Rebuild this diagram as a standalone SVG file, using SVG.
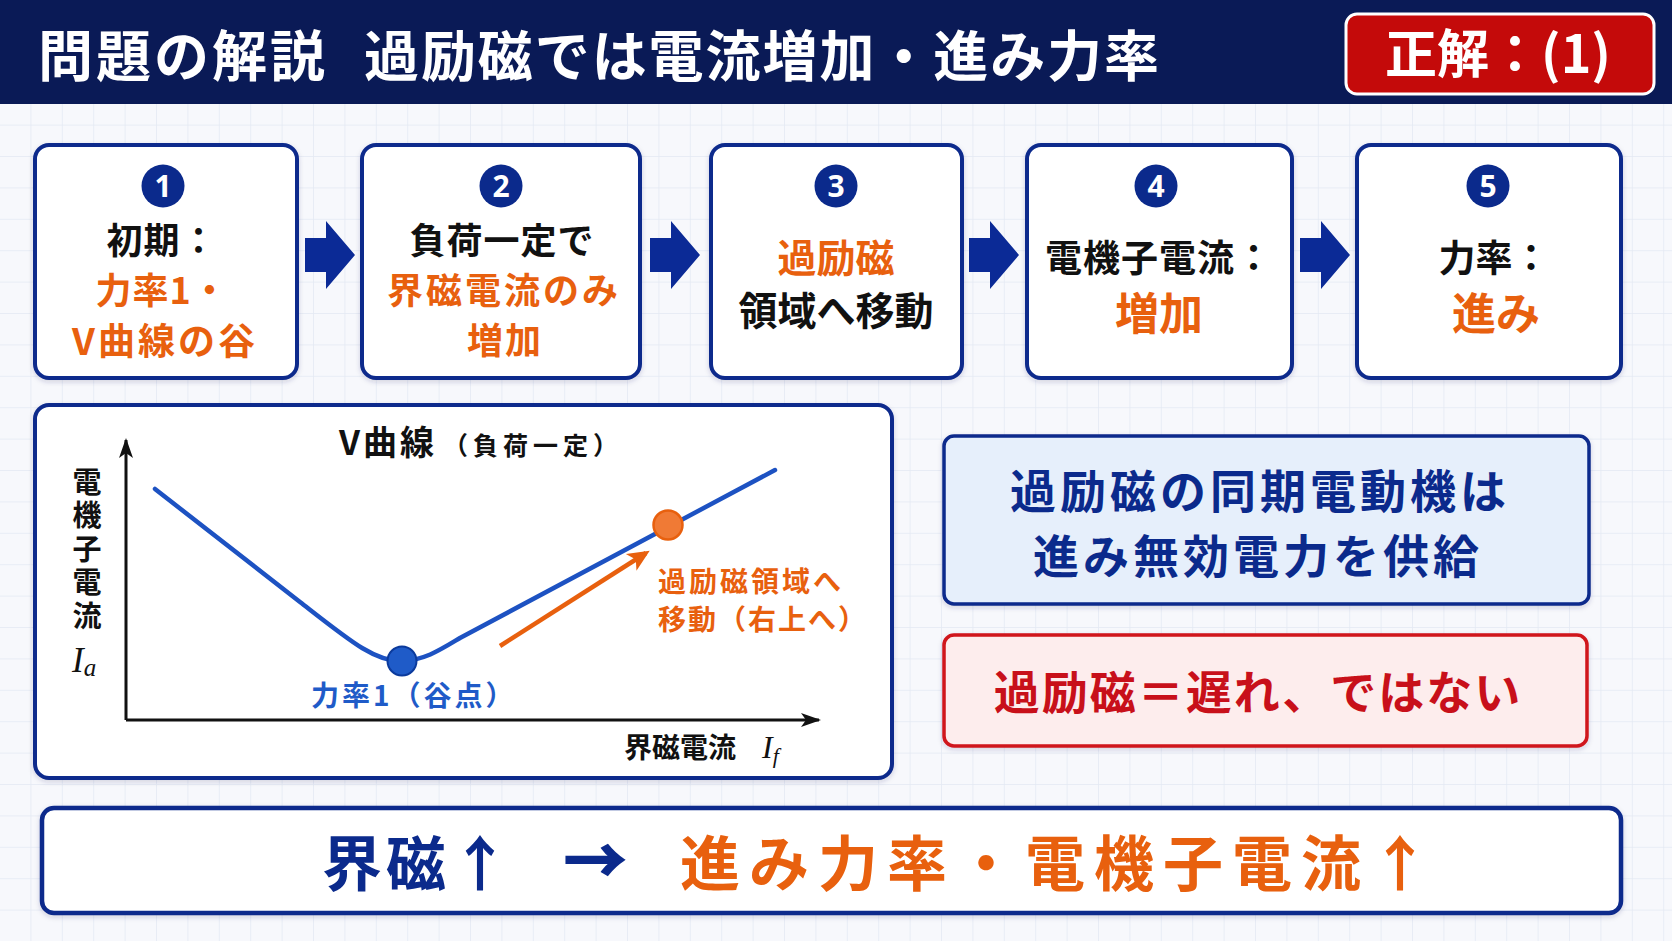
<svg xmlns="http://www.w3.org/2000/svg" width="1672" height="941" viewBox="0 0 1672 941">
<defs>
<style>
.jp{font-family:"Noto Sans CJK JP","Noto Sans",sans-serif;font-weight:700}
.box{fill:#ffffff;stroke:#0b2a8c;stroke-width:4}
.num{fill:#0b2a8c}
.numt{fill:#ffffff;font-family:"Noto Sans","Liberation Sans",sans-serif;font-weight:700;font-size:30px;text-anchor:middle}
.blk{fill:#0b2a96}
.s{font-size:36px;text-anchor:middle}
.k{fill:#111111}
.o{fill:#e8600e}
.nv{fill:#0b2a8c}
.ser{font-family:"Liberation Serif",serif;font-style:italic;font-weight:400}
</style>
<pattern id="grid" width="31.4" height="31.4" patternUnits="userSpaceOnUse">
<path d="M31.4 0V31.4M0 31.4H31.4" fill="none" stroke="#e4e9f3" stroke-width="1.5"/>
</pattern>
<filter id="sh" x="-5%" y="-5%" width="110%" height="115%">
<feDropShadow dx="0" dy="2" stdDeviation="2.5" flood-color="#1a2a60" flood-opacity="0.18"/>
</filter>
<marker id="ax" viewBox="0 0 20 14" refX="18" refY="7" markerWidth="20" markerHeight="14" markerUnits="userSpaceOnUse" orient="auto">
<path d="M0,0 L20,7 L0,14 L5,7 Z" fill="#111111"/>
</marker>
<marker id="oa" viewBox="0 0 20 20" refX="16" refY="10" markerWidth="22" markerHeight="22" markerUnits="userSpaceOnUse" orient="auto">
<path d="M0,1 L20,10 L0,19 L5,10 Z" fill="#e8600e"/>
</marker>
<path id="blkarrow" d="M0,-17 L21,-17 L21,-34 L50,0 L21,34 L21,17 L0,17 Z"/>
</defs>

<rect width="1672" height="941" fill="#f7f8fc"/>
<rect width="1672" height="941" fill="url(#grid)"/>

<g id="header">
<rect x="0" y="0" width="1672" height="104" fill="#0a1a56"/>
<text class="jp" x="38" y="76" font-size="55" fill="#ffffff" textLength="287" lengthAdjust="spacing">問題の解説</text>
<text class="jp" x="364" y="76" font-size="55" fill="#ffffff" textLength="795" lengthAdjust="spacing">過励磁では電流増加・進み力率</text>
</g>

<g id="answer">
<rect x="1346" y="14" width="308" height="80" rx="11" fill="#c40a0a" stroke="#ffffff" stroke-width="3"/>
<text class="jp" x="1498" y="73" font-size="52" fill="#ffffff" text-anchor="middle">正解：(1)</text>
</g>

<g id="step1">
<rect class="box" x="35" y="145" width="262" height="233" rx="14" filter="url(#sh)"/>
<circle class="num" cx="163" cy="186" r="21.5"/>
<text class="numt" x="163" y="197">1</text>
<text class="jp s k" x="162" y="254" letter-spacing="1">初期：</text>
<text class="jp s o" x="162" y="304" letter-spacing="1">力率1・</text>
<text class="jp o" x="165" y="355" font-size="37" letter-spacing="3" text-anchor="middle">V曲線の谷</text>
</g>

<g id="step2">
<rect class="box" x="362" y="145" width="278" height="233" rx="14" filter="url(#sh)"/>
<circle class="num" cx="501" cy="186" r="21.5"/>
<text class="numt" x="501" y="197">2</text>
<text class="jp s k" x="502" y="254" letter-spacing="1">負荷一定で</text>
<text class="jp s o" x="504" y="304" letter-spacing="3">界磁電流のみ</text>
<text class="jp s o" x="505" y="354" letter-spacing="2">増加</text>
</g>

<g id="step3">
<rect class="box" x="711" y="145" width="251" height="233" rx="14" filter="url(#sh)"/>
<circle class="num" cx="836" cy="186" r="21.5"/>
<text class="numt" x="836" y="197">3</text>
<text class="jp o" x="836" y="272" font-size="39" text-anchor="middle">過励磁</text>
<text class="jp k" x="836" y="325" font-size="39" text-anchor="middle">領域へ移動</text>
</g>

<g id="step4">
<rect class="box" x="1027" y="145" width="265" height="233" rx="14" filter="url(#sh)"/>
<circle class="num" cx="1156" cy="186" r="21.5"/>
<text class="numt" x="1156" y="197">4</text>
<text class="jp k" x="1159" y="272" font-size="37" letter-spacing="1" text-anchor="middle">電機子電流：</text>
<text class="jp o" x="1159" y="330" font-size="44" text-anchor="middle">増加</text>
</g>

<g id="step5">
<rect class="box" x="1357" y="145" width="264" height="233" rx="14" filter="url(#sh)"/>
<circle class="num" cx="1488" cy="186" r="21.5"/>
<text class="numt" x="1488" y="197">5</text>
<text class="jp k" x="1494" y="272" font-size="37" text-anchor="middle">力率：</text>
<text class="jp o" x="1496" y="330" font-size="44" text-anchor="middle">進み</text>
</g>

<g id="connectors">
<use href="#blkarrow" class="blk" x="305" y="255"/>
<use href="#blkarrow" class="blk" x="650" y="255"/>
<use href="#blkarrow" class="blk" x="969" y="255"/>
<use href="#blkarrow" class="blk" x="1300" y="255"/>
</g>

<g id="vcurve-panel">
<rect x="35" y="405" width="857" height="373" rx="14" fill="#ffffff" stroke="#0b2a8c" stroke-width="4" filter="url(#sh)"/>
<text class="jp k" x="339" y="455"><tspan font-size="34" letter-spacing="3">V曲線</tspan><tspan font-size="25" letter-spacing="5" dx="6">（負荷一定）</tspan></text>
<line x1="126" y1="720" x2="126" y2="440" stroke="#111111" stroke-width="3" marker-end="url(#ax)"/>
<line x1="126" y1="720" x2="819" y2="720" stroke="#111111" stroke-width="3" marker-end="url(#ax)"/>
<text class="jp k" x="87" y="467" font-size="29" letter-spacing="4.5" writing-mode="vertical-rl">電機子電流</text>
<text class="ser k" x="72" y="672" font-size="35">I<tspan font-size="25" dy="4">a</tspan></text>
<path d="M155,489 L300,602 C350,641 375,662 402,661 C425,660 440,650 460,638 L775,470" fill="none" stroke="#1d52c2" stroke-width="4.5" stroke-linecap="round"/>
<circle cx="402" cy="661" r="14.5" fill="#1f5bc8" stroke="#0b3a9c" stroke-width="2"/>
<circle cx="668" cy="525" r="14.5" fill="#f07a35" stroke="#e8600e" stroke-width="2.5"/>
<line x1="500" y1="646" x2="646" y2="553" stroke="#e8600e" stroke-width="4.5" marker-end="url(#oa)"/>
<text class="jp" x="658" y="592" font-size="28" letter-spacing="3" fill="#e8600e">過励磁領域へ</text>
<text class="jp" x="658" y="630" font-size="28" letter-spacing="2" fill="#e8600e">移動（右上へ）</text>
<text class="jp" x="311" y="706" font-size="28" letter-spacing="3" fill="#1f5bc8">力率1（谷点）</text>
<text class="jp k" x="624" y="758" font-size="28">界磁電流</text>
<text class="ser k" x="762" y="758" font-size="32">I<tspan font-size="22" dy="5">f</tspan></text>
</g>

<g id="note-blue">
<rect x="944" y="436" width="645" height="168" rx="10" fill="#e6effb" stroke="#0b2a8c" stroke-width="3.5" filter="url(#sh)"/>
<text class="jp nv" x="1260" y="508" font-size="46" letter-spacing="4" text-anchor="middle">過励磁の同期電動機は</text>
<text class="jp nv" x="1258" y="573" font-size="46" letter-spacing="4" text-anchor="middle">進み無効電力を供給</text>
</g>

<g id="note-red">
<rect x="944" y="635" width="643" height="111" rx="10" fill="#fdeded" stroke="#d0141a" stroke-width="3.5" filter="url(#sh)"/>
<text class="jp" x="1258" y="709" font-size="46" letter-spacing="2" fill="#c8101a" text-anchor="middle">過励磁＝遅れ、ではない</text>
</g>

<g id="summary">
<rect x="42" y="808" width="1579" height="105" rx="12" fill="#ffffff" stroke="#0b2a8c" stroke-width="4.5" filter="url(#sh)"/>
<text class="jp nv" x="322" y="886" font-size="60" letter-spacing="4">界磁↑</text>
<text class="jp nv" x="564" y="884" font-size="62" stroke="#0b2a8c" stroke-width="2">→</text>
<text class="jp o" x="680" y="886" font-size="60" letter-spacing="9">進み力率・電機子電流↑</text>
</g>
</svg>
